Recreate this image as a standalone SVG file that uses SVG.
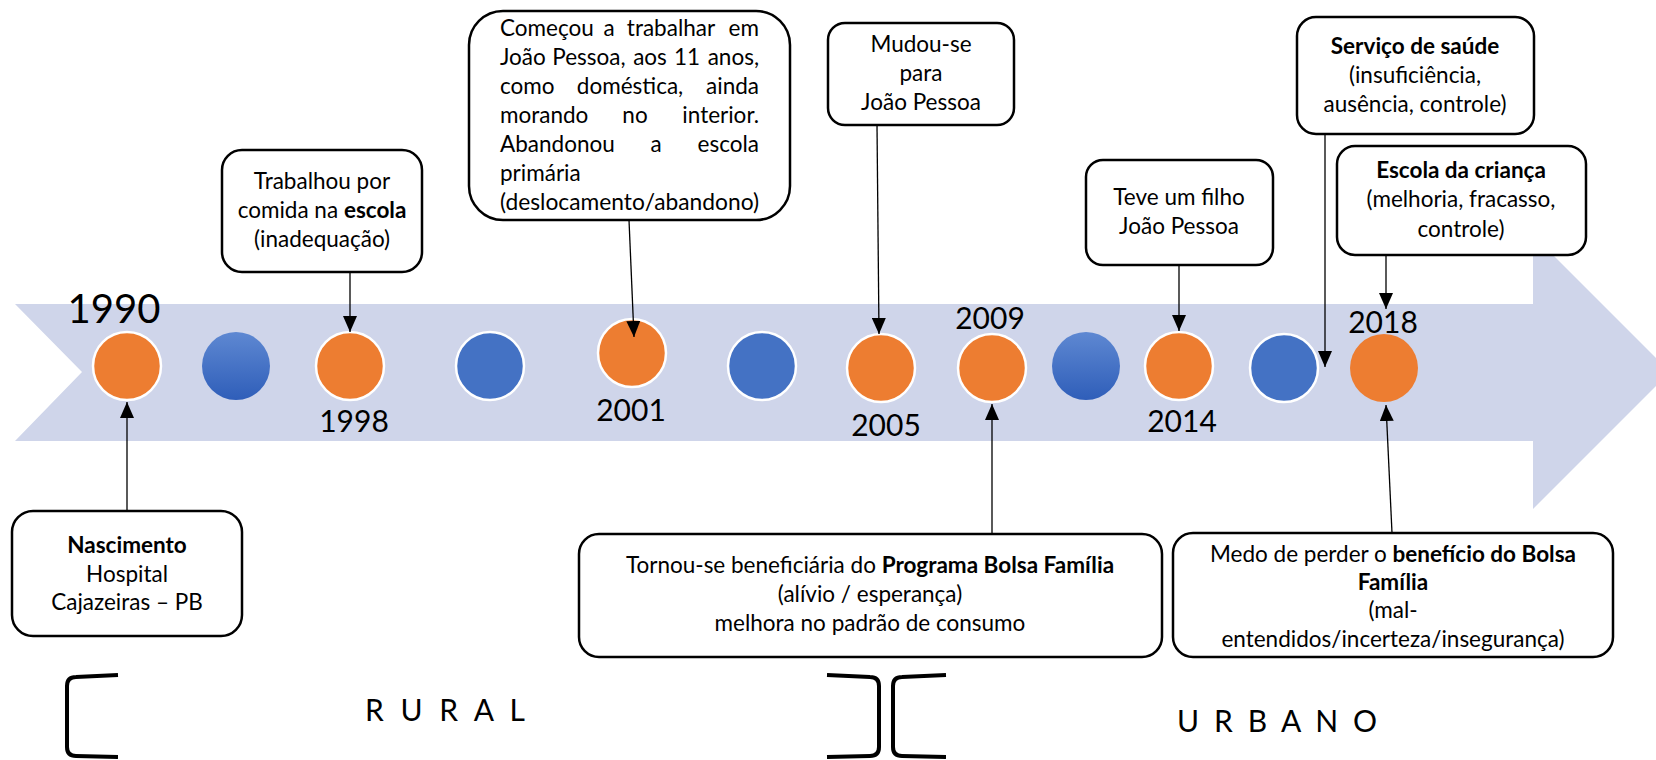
<svg xmlns="http://www.w3.org/2000/svg" width="1656" height="760" viewBox="0 0 1656 760">
<style>
text{font-family:Lato,"Liberation Sans",sans-serif;fill:#000}
.t{font-size:22.5px}
.c{text-anchor:middle}
.e{text-anchor:end}
.b{font-weight:bold}
.yr{font-size:30px;text-anchor:middle}
.box{fill:#fff;stroke:#000;stroke-width:2.5}
.or{fill:#ED7D31;stroke:#fff;stroke-width:2.5}
.bl{fill:#4472C4;stroke:#fff;stroke-width:2.5}
.con line{stroke:#000;stroke-width:1.3;marker-end:url(#ah)}
.br{fill:none;stroke:#000;stroke-width:4;stroke-linecap:butt}
.zone{font-size:30px}
</style>
<defs>
<marker id="ah" viewBox="0 0 16 14" refX="16" refY="7" markerWidth="16" markerHeight="14" markerUnits="userSpaceOnUse" orient="auto">
<path d="M0,0 L16,7 L0,14 z" fill="#000"/>
</marker>
<linearGradient id="bg" x1="0" y1="0" x2="0" y2="1">
<stop offset="0" stop-color="#5E88D2"/>
<stop offset="1" stop-color="#2F5EB9"/>
</linearGradient>
</defs>

<g id="timeline-band">
<polygon points="15,304 1533,304 1533,235 1670,372 1533,509 1533,441 15,441 82,372" fill="#CFD5EA"/>
</g>

<g id="markers">
<circle class="or" cx="127" cy="366" r="34"/>
<circle cx="236" cy="366" r="34" fill="url(#bg)"/>
<circle class="or" cx="350" cy="366" r="34"/>
<circle class="bl" cx="490" cy="366" r="34"/>
<circle class="or" cx="632" cy="353" r="34"/>
<circle class="bl" cx="762" cy="366" r="34"/>
<circle class="or" cx="881" cy="368" r="34"/>
<circle class="or" cx="992" cy="368" r="34"/>
<circle cx="1086" cy="366" r="34" fill="url(#bg)"/>
<circle class="or" cx="1179" cy="366" r="34"/>
<circle class="bl" cx="1284" cy="368" r="34"/>
<circle cx="1384" cy="368" r="34" fill="#ED7D31"/>
</g>

<g id="years">
<text x="114" y="323" style="font-size:40px;text-anchor:middle">1990</text>
<text class="yr" x="354" y="432">1998</text>
<text class="yr" x="631" y="421">2001</text>
<text class="yr" x="886" y="436">2005</text>
<text class="yr" x="990" y="329">2009</text>
<text class="yr" x="1182" y="432">2014</text>
<text class="yr" x="1383" y="333">2018</text>
</g>

<g id="connectors" class="con">
<line x1="127" y1="511" x2="127" y2="402"/>
<line x1="350" y1="272" x2="350" y2="332"/>
<line x1="629" y1="220" x2="634" y2="337"/>
<line x1="877" y1="125" x2="879" y2="334"/>
<line x1="992" y1="534" x2="992" y2="404"/>
<line x1="1179" y1="265" x2="1179" y2="331"/>
<line x1="1325" y1="134" x2="1325" y2="367"/>
<line x1="1386" y1="255" x2="1386" y2="309"/>
<line x1="1392" y1="533" x2="1386" y2="405"/>
</g>

<g id="node-nascimento">
<rect class="box" x="12" y="511" width="230" height="125" rx="21"/>
<text class="t c b" x="127" y="553">Nascimento</text>
<text class="t c" x="127" y="582">Hospital</text>
<text class="t c" x="127" y="610">Cajazeiras – PB</text>
</g>

<g id="node-trabalhou">
<rect class="box" x="222" y="150" width="200" height="122" rx="20"/>
<text class="t c" x="322" y="189">Trabalhou por</text>
<text class="t c" x="322" y="218">comida na <tspan class="b">escola</tspan></text>
<text class="t c" x="322" y="247">(inadequação)</text>
</g>

<g id="node-comecou">
<rect class="box" x="469" y="11" width="321" height="209" rx="34"/>
<text class="t" x="500" y="36">Começou</text>
<text class="t c" x="609" y="36">a</text>
<text class="t c" x="671" y="36">trabalhar</text>
<text class="t e" x="759" y="36">em</text>
<text class="t" x="500" y="65">João</text>
<text class="t c" x="589" y="65">Pessoa,</text>
<text class="t c" x="650" y="65">aos</text>
<text class="t c" x="687" y="65">11</text>
<text class="t e" x="759" y="65">anos,</text>
<text class="t" x="500" y="94">como</text>
<text class="t c" x="630" y="94">doméstica,</text>
<text class="t e" x="759" y="94">ainda</text>
<text class="t" x="500" y="123">morando</text>
<text class="t c" x="635" y="123">no</text>
<text class="t e" x="759" y="123">interior.</text>
<text class="t" x="500" y="152">Abandonou</text>
<text class="t c" x="656" y="152">a</text>
<text class="t e" x="759" y="152">escola</text>
<text class="t" x="500" y="181">primária</text>
<text class="t" x="500" y="210" textLength="259" lengthAdjust="spacingAndGlyphs">(deslocamento/abandono)</text>
</g>

<g id="node-mudou">
<rect class="box" x="828" y="23" width="186" height="102" rx="17"/>
<text class="t c" x="921" y="52">Mudou-se</text>
<text class="t c" x="921" y="81">para</text>
<text class="t c" x="921" y="110">João Pessoa</text>
</g>

<g id="node-tornou">
<rect class="box" x="579" y="534" width="583" height="123" rx="20"/>
<text class="t c" x="870" y="573">Tornou-se beneficiária do <tspan class="b">Programa Bolsa Família</tspan></text>
<text class="t c" x="870" y="602">(alívio / esperança)</text>
<text class="t c" x="870" y="631">melhora no padrão de consumo</text>
</g>

<g id="node-teve">
<rect class="box" x="1086" y="160" width="187" height="105" rx="17"/>
<text class="t c" x="1179" y="205">Teve um filho</text>
<text class="t c" x="1179" y="234">João Pessoa</text>
</g>

<g id="node-servico">
<rect class="box" x="1297" y="17" width="237" height="117" rx="19"/>
<text class="t c b" x="1415" y="54">Serviço de saúde</text>
<text class="t c" x="1415" y="83">(insuficiência,</text>
<text class="t c" x="1415" y="112">ausência, controle)</text>
</g>

<g id="node-escola">
<rect class="box" x="1337" y="146" width="249" height="109" rx="18"/>
<text class="t c b" x="1461" y="178">Escola da criança</text>
<text class="t c" x="1461" y="207">(melhoria, fracasso,</text>
<text class="t c" x="1461" y="237">controle)</text>
</g>

<g id="node-medo">
<rect class="box" x="1173" y="533" width="440" height="124" rx="20"/>
<text class="t c" x="1393" y="562">Medo de perder o <tspan class="b">benefício do Bolsa</tspan></text>
<text class="t c b" x="1393" y="590">Família</text>
<text class="t c" x="1393" y="618">(mal-</text>
<text class="t c" x="1393" y="647">entendidos/incerteza/insegurança)</text>
</g>

<g id="zones">
<path class="br" d="M118,675 L76,677 Q67,677 67,686 L67,747 Q67,756 76,756 L118,757"/>
<path class="br" d="M827,675 L870,677 Q879,677 879,686 L879,747 Q879,756 870,756 L827,757"/>
<path class="br" d="M946,675 L902,677 Q893,677 893,686 L893,747 Q893,756 902,756 L946,757"/>
<text class="zone" x="365" y="721" textLength="160" lengthAdjust="spacing">R U R A L</text>
<text class="zone" x="1177" y="732" textLength="200" lengthAdjust="spacing">U R B A N O</text>
</g>
</svg>
